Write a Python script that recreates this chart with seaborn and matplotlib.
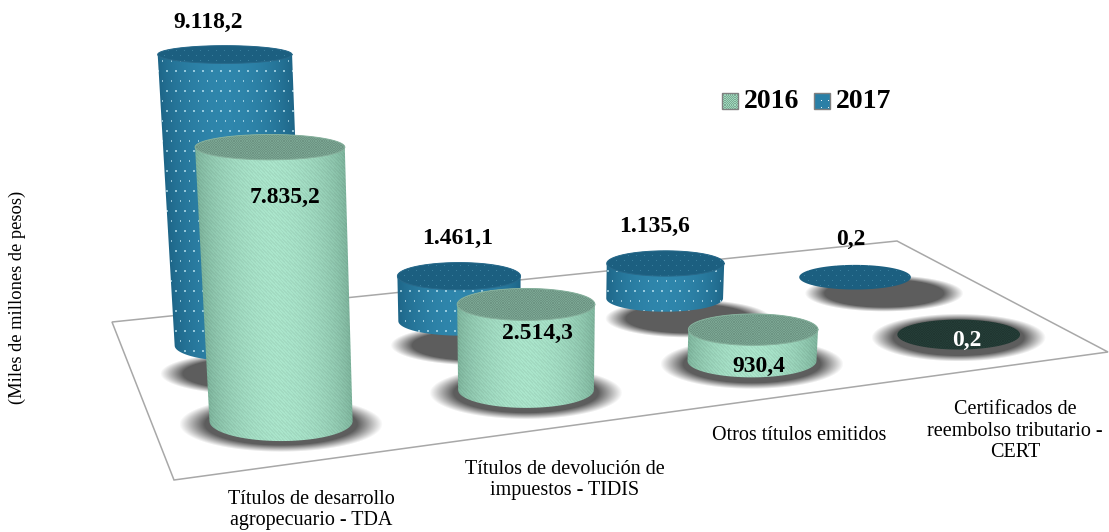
import numpy as np
import pandas as pd
import matplotlib.pyplot as plt
from matplotlib.patches import Polygon
import seaborn as sns

# %%
## datos

categorias = ["Títulos de desarrollo\nagropecuario - TDA",
              "Títulos de devolución de\nimpuestos - TIDIS",
              "Otros títulos emitidos",
              "Certificados de\nreembolso tributario -\nCERT"]
valores_2016 = [7835.2, 2514.3, 930.4, 0.2]
valores_2017 = [9118.2, 1461.1, 1135.6, 0.2]
etiquetas_2016 = ["7.835,2", "2.514,3", "930,4", "0,2"]
etiquetas_2017 = ["9.118,2", "1.461,1", "1.135,6", "0,2"]

df = pd.DataFrame({"categoria": categorias, "2016": valores_2016, "2017": valores_2017})

# %%
## plano del piso en pixeles (atras-izq, atras-der, frente-der, frente-izq)

piso = np.array([[112, 322], [897, 241], [1108, 352], [174, 480]], dtype=float)


def homografia(p):
    x0, y0 = p[0]; x1, y1 = p[1]; x2, y2 = p[2]; x3, y3 = p[3]
    dx1, dx2, sx = x1 - x2, x3 - x2, x0 - x1 + x2 - x3
    dy1, dy2, sy = y1 - y2, y3 - y2, y0 - y1 + y2 - y3
    det = dx1 * dy2 - dx2 * dy1
    g = (sx * dy2 - dx2 * sy) / det
    h = (dx1 * sy - sx * dy1) / det
    return np.array([[x1 - x0 + g * x1, x3 - x0 + h * x3, x0],
                     [y1 - y0 + g * y1, y3 - y0 + h * y3, y0],
                     [g, h, 1.0]])


H = homografia(piso)


def al_piso(u, v):
    q = H @ np.array([u, v, 1.0])
    return q[0] / q[2], q[1] / q[2], q[2]


pos_u = {"2017": [0.117, 0.363, 0.614, 0.869], "2016": [0.116, 0.364, 0.618, 0.875]}
fila_v = {"2017": 0.27, "2016": 0.77}
escala_altura = {"2017": 0.0305, "2016": 0.0335}

estilo = {
    "2016": dict(borde="#7db49c", medio="#abe6cc", tapa="#7aa592", tapa_borde="#86b09c"),
    "2017": dict(borde="#1d6486", medio="#2f86ac", tapa="#1c5f80", tapa_borde="#28698a"),
}

# %%
sns.set_theme(style="white")
plt.rcParams["font.family"] = ["Liberation Serif", "DejaVu Serif"]

fig = plt.figure(figsize=(11.09, 5.32), dpi=100)
ax = fig.add_axes([0, 0, 1, 1])


def malla(x0, x1, y0, y1):
    return np.meshgrid(np.arange(int(x0), int(x1) + 1) + 0.5, np.arange(int(y0), int(y1) + 1) + 0.5)


def textura_lado(xx, yy, izq, der, serie):
    e = estilo[serie]
    cmap = sns.blend_palette([e["borde"], e["medio"]], as_cmap=True)
    t = np.clip((xx - izq) / (der - izq), 0, 1)
    img = cmap(np.sin(np.pi * t) ** 0.7)[..., :3].copy()
    if serie == "2016":
        img *= (1 - 0.05 * (np.sin(2 * np.pi * (xx * 0.31 + yy * 0.72)) > 0))[..., None]
    else:
        fila = np.floor(yy / 10)
        dx = (xx + 4.5 * (fila % 2)) % 9
        dy = yy % 10
        punto = (dx < 1.2) & (dy < 2.5)
        img[punto] = img[punto] * 0.35 + np.array([0.8, 0.94, 0.98]) * 0.65
    return img


def textura_tapa(xx, yy, serie, oscuro=False):
    base = np.array(plt.matplotlib.colors.to_rgb(estilo[serie]["tapa"]))
    if oscuro:
        base = np.array(plt.matplotlib.colors.to_rgb("#243d37"))
    img = np.ones(xx.shape + (3,)) * base
    if serie == "2016":
        img *= (1 - 0.10 * (np.sin(2 * np.pi * xx * 0.42) * np.sin(2 * np.pi * yy * 0.42) > 0))[..., None]
    else:
        fila = np.floor(yy / 5)
        punto = ((xx + 4 * (fila % 2)) % 8 < 1.5) & (yy % 5 < 1.5)
        img[punto] = img[punto] * 0.7 + np.array([0.5, 0.8, 0.9]) * 0.3
    return img


def elipse(cx, cy, rx, ry, a=0, b=2 * np.pi, n=120):
    t = np.linspace(a, b, n)
    return np.column_stack([cx + rx * np.cos(t), cy + ry * np.sin(t)])


def razon(y):
    return 0.11 + 0.0004 * y


def pintar(img, x0, x1, y0, y1, clip, z):
    im = ax.imshow(img, extent=(int(x0), int(x1) + 1, int(y1) + 1, int(y0)), aspect="auto",
                   interpolation="bilinear", zorder=z)
    im.set_clip_path(Polygon(clip, closed=True, transform=ax.transData))


def sombra(cx, cy, rx, ry, z):
    xx, yy = malla(cx - rx * 1.3, cx + rx * 1.3, cy - ry * 1.5, cy + ry * 1.5)
    d = np.sqrt(((xx - cx) / rx) ** 2 + ((yy - cy) / ry) ** 2)
    alfa = np.clip((1.0 - d) / 0.25, 0, 1)
    img = np.ones(xx.shape + (4,)) * 0.33
    img[..., 3] = alfa * 0.95
    ax.imshow(img, extent=(xx.min() - 0.5, xx.max() + 0.5, yy.max() + 0.5, yy.min() - 0.5),
              aspect="auto", interpolation="bilinear", zorder=z)


def cilindro(u, v, valor, serie, z):
    cx, cy, w = al_piso(u, v)
    rx_base = 62 / w
    alto = valor * escala_altura[serie]
    # perspectiva: lo mas alto queda mas cerca de la camara
    alto = alto * (1 + alto / 6000)
    # punto de fuga muy abajo: el cilindro se abre hacia arriba
    tx = cx + alto * (cx - 525) / 6000
    ty = cy - alto
    rx_top = rx_base * (1 + alto / 6000)
    ry_base = rx_base * razon(cy)
    ry_top = rx_top * razon(ty)

    if alto > 1:
        contorno = np.vstack([elipse(cx, cy, rx_base, ry_base, 0, np.pi),
                              elipse(tx, ty, rx_top, ry_top, np.pi, 2 * np.pi)])
        x0, x1 = contorno[:, 0].min() - 1, contorno[:, 0].max() + 1
        y0, y1 = contorno[:, 1].min() - 1, contorno[:, 1].max() + 1
        xx, yy = malla(x0, x1, y0, y1)
        f = (yy - ty) / max(alto, 1)
        izq = tx - rx_top + f * (cx - rx_base - tx + rx_top)
        der = tx + rx_top + f * (cx + rx_base - tx - rx_top)
        pintar(textura_lado(xx, yy, izq, der, serie), x0, x1, y0, y1, contorno, z)

    tapa = elipse(tx, ty, rx_top, ry_top)
    x0, x1 = tapa[:, 0].min() - 1, tapa[:, 0].max() + 1
    y0, y1 = tapa[:, 1].min() - 1, tapa[:, 1].max() + 1
    xx, yy = malla(x0, x1, y0, y1)
    pintar(textura_tapa(xx, yy, serie, oscuro=(serie == "2016" and alto < 1)), x0, x1, y0, y1, tapa, z + 0.1)
    if alto > 1:
        ax.plot(tapa[:, 0], tapa[:, 1], color=estilo[serie]["tapa_borde"], lw=0.7, zorder=z + 0.2)


# %%
## piso

ax.add_patch(Polygon(piso, closed=True, facecolor="white", edgecolor="#a8a8a8", lw=1.1, zorder=1))

## sombras

for serie in ["2017", "2016"]:
    for u in pos_u[serie]:
        cx, cy, w = al_piso(u, fila_v[serie])
        rx = 62 / w
        if serie == "2017":
            sombra(cx + 10 + 22 * u, cy + 30 - 16 * u, rx * 1.42, rx * 0.33, 2)
        else:
            sombra(cx, cy + 3, rx * 1.42, rx * 0.39, 2)

## cilindros

z = 3
for serie in ["2017", "2016"]:
    for u, valor in zip(pos_u[serie], df[serie]):
        cilindro(u, fila_v[serie], valor, serie, z)
        z += 1

# %%
## textos

pos_2017 = [(208, 22), (458, 238), (655, 226), (851, 239)]
pos_2016 = [(285, 197), (537, 333), (759, 366), (967, 340)]
for (x, y), txt in zip(pos_2017, etiquetas_2017):
    ax.text(x, y, txt, ha="center", va="center", fontsize=17, fontweight="bold", color="black", zorder=30)
for (x, y), txt, col in zip(pos_2016, etiquetas_2016, ["black", "black", "black", "white"]):
    ax.text(x, y, txt, ha="center", va="center", fontsize=17, fontweight="bold", color=col, zorder=30)

pos_cat = [(311, 510), (565, 480), (799, 436), (1015, 431)]
for (x, y), txt in zip(pos_cat, df["categoria"]):
    ax.text(x, y, txt, ha="center", va="center", fontsize=14.5, linespacing=1.2, color="black", zorder=30)

ax.text(17, 297, "(Miles de millones de pesos)", rotation=90, ha="center", va="center", fontsize=13.3, color="black")

## leyenda

for x0, serie in [(722, "2016"), (814, "2017")]:
    x1, y0, y1 = x0 + 15, 93, 108
    xx, yy = malla(x0, x1, y0, y1)
    if serie == "2016":
        img = np.ones(xx.shape + (3,)) * np.array([0.62, 0.85, 0.74])
        img *= (1 - 0.22 * (np.sin(2 * np.pi * xx * 0.45) * np.sin(2 * np.pi * yy * 0.45) > 0))[..., None]
    else:
        img = np.ones(xx.shape + (3,)) * np.array(plt.matplotlib.colors.to_rgb("#2a7fa6"))
        img[((xx - x0) % 7 < 1) & ((yy - y0) % 7 < 1)] = [0.9, 0.95, 0.97]
    ax.imshow(img, extent=(x0, x1 + 1, y1 + 1, y0), aspect="auto", interpolation="nearest", zorder=5)
    ax.add_patch(plt.Rectangle((x0, y0), x1 - x0 + 1, y1 - y0 + 1, fill=False, ec="#808080", lw=1, zorder=6))
ax.text(744, 101, "2016", ha="left", va="center", fontsize=20, fontweight="bold", color="black")
ax.text(836, 101, "2017", ha="left", va="center", fontsize=20, fontweight="bold", color="black")

ax.set_xlim(0, 1109)
ax.set_ylim(532, 0)
ax.axis("off")

plt.savefig("out.png", dpi=100)
